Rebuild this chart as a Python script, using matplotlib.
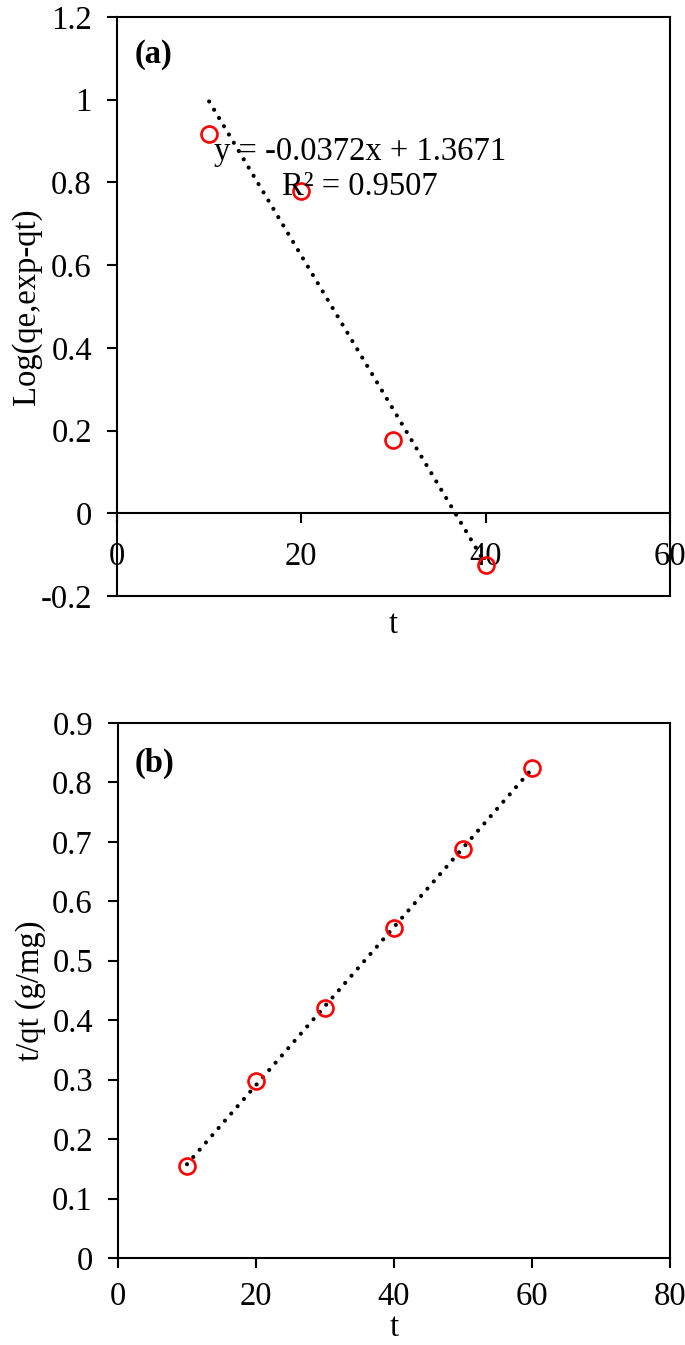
import numpy as np
import matplotlib
matplotlib.use("Agg")
import matplotlib.pyplot as plt

plt.rcParams['font.family'] = ['Liberation Serif', 'DejaVu Serif']

# panel (a): pseudo-first-order
t_a = [10, 20, 30, 40]
log_q = [0.917, 0.778, 0.176, -0.125]

# panel (b): pseudo-second-order
t_b = [10, 20, 30, 40, 50, 60]
t_over_qt = [0.155, 0.298, 0.420, 0.555, 0.688, 0.825]

FS = 23.5
DOT = (0, (0.01, 2.3))

fig = plt.figure(figsize=(6.85, 13.45), dpi=100)
ax1 = fig.add_axes([0.1708, 0.5569, 0.8072, 0.4305])
ax2 = fig.add_axes([0.1722, 0.0647, 0.8058, 0.3978])


def style(ax):
    for s in ax.spines.values():
        s.set_linewidth(1.5)
        s.set_color("black")
    ax.tick_params(direction="out", length=7, width=1.5, labelsize=FS)


# ---- (a) ----
k, b = np.polyfit(t_a, log_q, 1)
xx = np.array([t_a[0], t_a[-1]])
ax1.plot(xx, k * xx + b, color="black", lw=3, linestyle=DOT,
         dash_capstyle="round")
ax1.plot(t_a, log_q, "o", mfc="none", mec="#ff0000", ms=11.5, mew=1.9)
ax1.set_xlim(0, 60)
ax1.set_ylim(-0.2, 1.2)
ax1.set_xticks([0, 20, 40, 60])
ax1.set_yticks(np.arange(-0.2, 1.21, 0.2))
ax1.set_yticklabels(["-0.2", "0", "0.2", "0.4", "0.6", "0.8", "1", "1.2"])
style(ax1)
ax1.spines["bottom"].set_position(("data", 0))
ax1.axhline(-0.2, color="black", lw=1.5, clip_on=False)
ax1.tick_params(axis="x", pad=13)
ax1.tick_params(axis="y", pad=11)
ax1.set_xlabel("t", fontsize=FS)
ax1.xaxis.set_label_coords(0.5, -0.05)
ax1.xaxis.label.set_verticalalignment("center")
ax1.set_ylabel("Log(qe,exp-qt)", fontsize=FS)
ax1.yaxis.set_label_coords(-0.163, 0.5)
ax1.yaxis.label.set_verticalalignment("center")
ax1.text(26.4, 0.873, "y = -0.0372x + 1.3671", fontsize=FS, ha="center", va="center")
ax1.text(26.4, 0.79, "R² = 0.9507", fontsize=FS, ha="center", va="center")
ax1.text(0.032, 0.935, "(a)", transform=ax1.transAxes, fontsize=FS,
         fontweight="bold", va="center")

# ---- (b) ----
k2, b2 = np.polyfit(t_b, t_over_qt, 1)
xx2 = np.array([t_b[0], t_b[-1]])
ax2.plot(xx2, k2 * xx2 + b2, color="black", lw=3, linestyle=DOT,
         dash_capstyle="round")
ax2.plot(t_b, t_over_qt, "o", mfc="none", mec="#ff0000", ms=11.5, mew=1.9)
ax2.set_xlim(0, 80)
ax2.set_ylim(0, 0.9)
ax2.set_xticks([0, 20, 40, 60, 80])
ax2.set_yticks(np.arange(0, 0.91, 0.1))
ax2.set_yticklabels(["0", "0.1", "0.2", "0.3", "0.4", "0.5", "0.6", "0.7", "0.8", "0.9"])
style(ax2)
ax2.tick_params(axis="x", pad=10)
ax2.tick_params(axis="y", pad=11)
ax2.set_xlabel("t", fontsize=FS)
ax2.xaxis.set_label_coords(0.5, -0.131)
ax2.xaxis.label.set_verticalalignment("center")
ax2.set_ylabel("t/qt (g/mg)", fontsize=FS)
ax2.yaxis.set_label_coords(-0.159, 0.5)
ax2.yaxis.label.set_verticalalignment("center")
ax2.text(0.03, 0.925, "(b)", transform=ax2.transAxes, fontsize=FS,
         fontweight="bold", va="center")

fig.savefig("out.png", dpi=100)
